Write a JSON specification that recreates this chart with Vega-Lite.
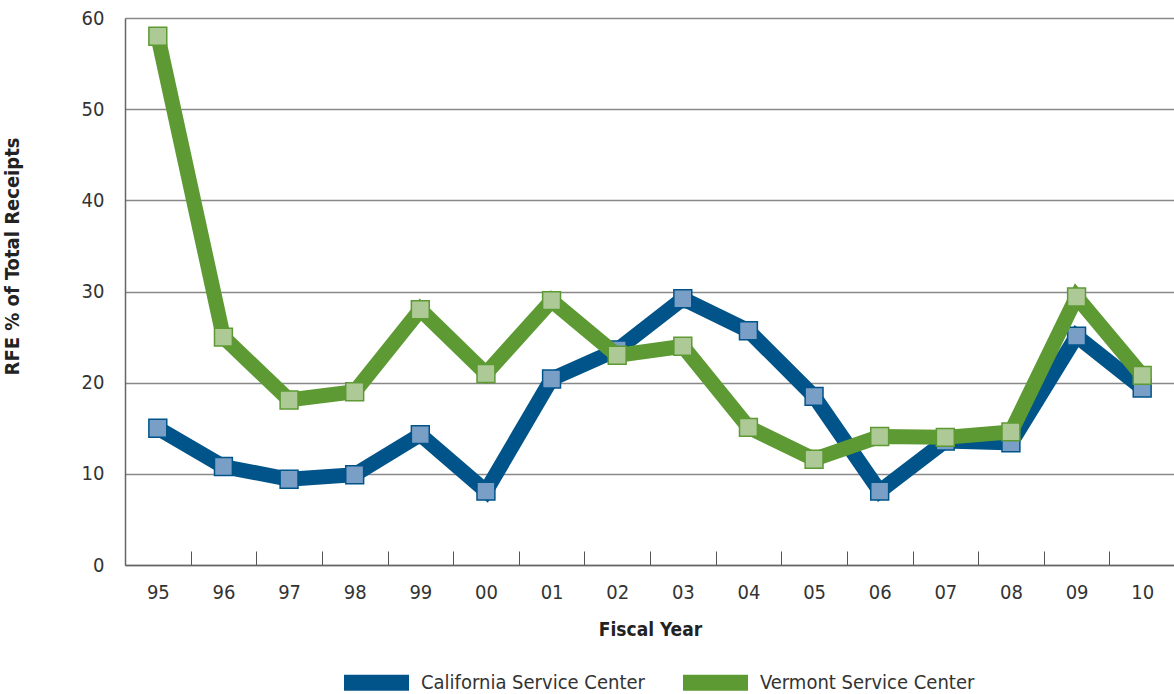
{
  "$schema": "https://vega.github.io/schema/vega-lite/v6.json",
  "autosize": "none",
  "padding": {"left": 125, "top": 18, "right": 0, "bottom": 129},
  "width": 1050,
  "height": 547,
  "background": "white",
  "config": {
    "view": {"stroke": null},
    "font": "DejaVu Sans Condensed",
    "axis": {"labelFont": "DejaVu Sans Condensed", "titleFont": "DejaVu Sans Condensed"},
    "legend": {"labelFont": "DejaVu Sans Condensed"}
  },
  "data": {
    "values": [
      {"year": "95", "center": "California Service Center", "value": 15.0},
      {"year": "96", "center": "California Service Center", "value": 10.8},
      {"year": "97", "center": "California Service Center", "value": 9.4},
      {"year": "98", "center": "California Service Center", "value": 9.9},
      {"year": "99", "center": "California Service Center", "value": 14.3},
      {"year": "00", "center": "California Service Center", "value": 8.1},
      {"year": "01", "center": "California Service Center", "value": 20.4},
      {"year": "02", "center": "California Service Center", "value": 23.6},
      {"year": "03", "center": "California Service Center", "value": 29.2},
      {"year": "04", "center": "California Service Center", "value": 25.7},
      {"year": "05", "center": "California Service Center", "value": 18.5},
      {"year": "06", "center": "California Service Center", "value": 8.1},
      {"year": "07", "center": "California Service Center", "value": 13.6},
      {"year": "08", "center": "California Service Center", "value": 13.4},
      {"year": "09", "center": "California Service Center", "value": 25.1},
      {"year": "10", "center": "California Service Center", "value": 19.4},
      {"year": "95", "center": "Vermont Service Center", "value": 58.0},
      {"year": "96", "center": "Vermont Service Center", "value": 25.0},
      {"year": "97", "center": "Vermont Service Center", "value": 18.1},
      {"year": "98", "center": "Vermont Service Center", "value": 19.0},
      {"year": "99", "center": "Vermont Service Center", "value": 28.0},
      {"year": "00", "center": "Vermont Service Center", "value": 21.0},
      {"year": "01", "center": "Vermont Service Center", "value": 29.0},
      {"year": "02", "center": "Vermont Service Center", "value": 23.0},
      {"year": "03", "center": "Vermont Service Center", "value": 24.0},
      {"year": "04", "center": "Vermont Service Center", "value": 15.1},
      {"year": "05", "center": "Vermont Service Center", "value": 11.6},
      {"year": "06", "center": "Vermont Service Center", "value": 14.1},
      {"year": "07", "center": "Vermont Service Center", "value": 14.0},
      {"year": "08", "center": "Vermont Service Center", "value": 14.6},
      {"year": "09", "center": "Vermont Service Center", "value": 29.4},
      {"year": "10", "center": "Vermont Service Center", "value": 20.8}
    ]
  },
  "encoding": {
    "x": {
      "field": "year",
      "type": "ordinal",
      "sort": ["95","96","97","98","99","00","01","02","03","04","05","06","07","08","09","10"],
      "scale": {"paddingInner": 0, "paddingOuter": 0},
      "axis": {
        "title": "Fiscal Year",
        "labelAngle": 0,
        "labelFontSize": 20,
        "labelColor": "#333333",
        "labelPadding": 31,
        "tickBand": "extent",
        "tickSize": -14,
        "tickColor": "#555555",
        "tickWidth": 1,
        "domainColor": "#666666",
        "domainWidth": 1.5,
        "titleFontSize": 19,
        "titleFontWeight": "bold",
        "titleColor": "#222222",
        "titlePadding": 18
      }
    },
    "y": {
      "field": "value",
      "type": "quantitative",
      "scale": {"domain": [0, 60]},
      "axis": {
        "title": "RFE % of Total Receipts",
        "values": [0, 10, 20, 30, 40, 50, 60],
        "labelFontSize": 20,
        "labelColor": "#333333",
        "labelPadding": 21,
        "ticks": false,
        "grid": true,
        "gridColor": "#888888",
        "gridWidth": 1.5,
        "domainColor": "#666666",
        "domainWidth": 1.5,
        "titleFontSize": 20,
        "titleFontWeight": "bold",
        "titleColor": "#222222",
        "titleX": -103,
        "titleY": 238
      }
    }
  },
  "layer": [
    {
      "transform": [{"filter": "datum.center === 'California Service Center'"}],
      "mark": {"type": "line", "strokeWidth": 15, "strokeJoin": "miter", "strokeMiterLimit": 2},
      "encoding": {
        "color": {
          "field": "center",
          "type": "nominal",
          "scale": {"domain": ["California Service Center", "Vermont Service Center"], "range": ["#00548a", "#5d9a33"]},
          "legend": {
            "title": null,
            "orient": "none",
            "legendX": 211,
            "legendY": 624,
            "direction": "horizontal",
            "symbolType": "stroke",
            "symbolSize": 4225,
            "symbolStrokeWidth": 16,
            "labelFontSize": 20,
            "labelColor": "#333333",
            "labelOffset": 4,
            "columnPadding": 6,
            "labelLimit": 400
          }
        }
      }
    },
    {
      "transform": [{"filter": "datum.center === 'California Service Center'"}],
      "mark": {"type": "point", "shape": "square", "size": 320, "filled": true, "fill": "#7a9fc6", "stroke": "#00548a", "strokeWidth": 1.5, "opacity": 1}
    },
    {
      "transform": [{"filter": "datum.center === 'Vermont Service Center'"}],
      "mark": {"type": "line", "strokeWidth": 15, "strokeJoin": "miter", "strokeMiterLimit": 2},
      "encoding": {
        "color": {"field": "center", "type": "nominal"}
      }
    },
    {
      "transform": [{"filter": "datum.center === 'Vermont Service Center'"}],
      "mark": {"type": "point", "shape": "square", "size": 320, "filled": true, "fill": "#adc996", "stroke": "#5d9a33", "strokeWidth": 1.5, "opacity": 1}
    }
  ]
}
